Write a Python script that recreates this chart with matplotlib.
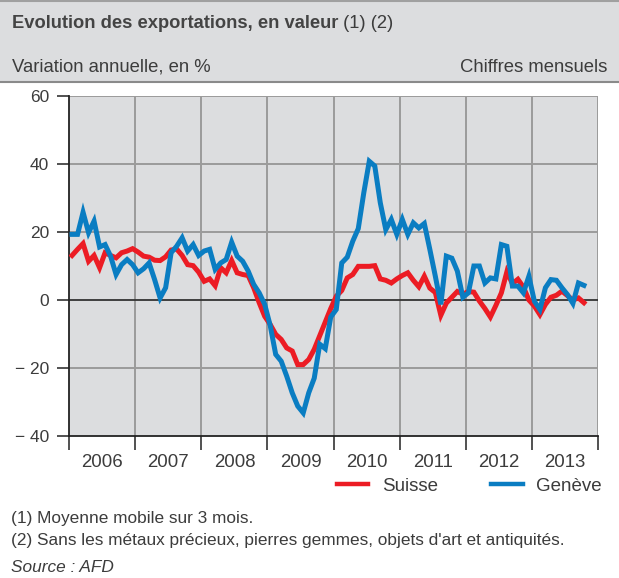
import matplotlib
matplotlib.use("Agg")
import matplotlib.pyplot as plt
from matplotlib.patches import Rectangle
from matplotlib.lines import Line2D
import numpy as np

plt.rcParams['font.family'] = ['Liberation Sans', 'DejaVu Sans']

# ---- data (monthly, Jan 2006 .. Oct 2013) ----
start_year = 2006
suisse = [13.1, 14.9, 16.6, 11.4, 13.1, 9.5, 13.9, 13.1, 12.4, 13.9, 14.4, 15.1,
          14.1, 12.9, 12.6, 11.7, 11.6, 12.7, 14.7, 15.0, 13.1, 10.4, 10.1, 8.2,
          5.5, 6.2, 4.2, 9.5, 8.0, 11.6, 8.0, 7.5, 7.2, 3.6, -0.8, -4.8,
          -7.2, -10.1, -11.6, -14.1, -15.0, -19.0, -19.0, -17.5, -14.5, -10.5, -6.5, -2.5,
          1.1, 2.8, 6.5, 7.5, 9.9, 9.9, 9.9, 10.1, 6.2, 5.8, 5.0, 6.2,
          7.2, 8.0, 5.8, 3.9, 7.0, 3.5, 2.2, -4.5, -0.9, 0.8, 2.5, 1.7,
          2.5, 2.3, -0.3, -2.5, -5.0, -1.6, 2.1, 8.3, 4.8, 6.1, 3.8, 0.0,
          -1.8, -4.3, -1.3, 0.8, 1.4, 2.6, 1.3, 0.0, 0.6, -0.8]
geneve = [19.3, 19.3, 25.8, 19.8, 23.2, 15.6, 16.3, 12.9, 7.5, 10.4, 11.9, 10.4,
          8.0, 9.2, 10.9, 6.0, 0.6, 3.6, 13.9, 15.8, 18.3, 14.4, 16.3, 13.1,
          14.4, 14.9, 9.0, 10.9, 11.9, 17.0, 12.9, 11.4, 8.5, 4.6, 2.1, -1.3,
          -7.5, -16.0, -18.0, -22.4, -27.3, -31.2, -33.2, -27.3, -23.0, -13.0, -14.3, -5.0,
          -2.8, 10.9, 12.6, 17.3, 21.0, 31.5, 40.8, 39.4, 28.6, 20.7, 23.7, 19.3,
          23.7, 19.3, 22.7, 21.2, 22.5, 14.9, 7.0, -1.3, 12.9, 12.3, 8.5, 0.8,
          2.1, 10.0, 10.0, 5.0, 6.5, 6.2, 16.3, 15.8, 4.1, 4.1, 2.1, 7.0,
          -0.4, -2.8, 3.6, 6.0, 5.8, 3.6, 1.6, -1.0, 5.0, 4.3]
years = [2006, 2007, 2008, 2009, 2010, 2011, 2012, 2013]
yticks = [-40, -20, 0, 20, 40, 60]
ytick_labels = ["\u2212 40", "\u2212 20", "0", "20", "40", "60"]
series_names = ["Suisse", "Genève"]

title_bold = "Evolution des exportations, en valeur"
title_rest = " (1) (2)"
subtitle_left = "Variation annuelle, en %"
subtitle_right = "Chiffres mensuels"
notes = ["(1) Moyenne mobile sur 3 mois.",
         "(2) Sans les métaux précieux, pierres gemmes, objets d'art et antiquités."]
source = "Source : AFD"

# ---- style ----
W, H = 619, 578
BG = "#dcdddf"
RED = "#ec1c24"
BLUE = "#0a7dc2"
TXT = "#3c3c3c"
GRID = "#9b9b9b"

fig = plt.figure(figsize=(W / 100, H / 100), dpi=100)
fig.patch.set_facecolor("white")

def fx(px):
    return px / W

def fy(py):
    return 1 - py / H

# header band
fig.patches.append(Rectangle((0, fy(82)), 1, fy(0) - fy(82), transform=fig.transFigure,
                             facecolor=BG, edgecolor="none", zorder=0))
fig.lines.append(Line2D([0, 1], [fy(1), fy(1)], transform=fig.transFigure, color="#a0a0a0", lw=1.5))
fig.lines.append(Line2D([0, 1], [fy(82), fy(82)], transform=fig.transFigure, color="#8a8a8a", lw=1.5))

t = fig.text(fx(12), fy(23), title_bold, fontsize=13.2, fontweight="bold", color="#444444",
             va="center", ha="left")
fig.canvas.draw()
bb = t.get_window_extent()
fig.text(bb.x1 / W, fy(23), title_rest, fontsize=13.2, color=TXT, va="center", ha="left")
fig.text(fx(12), fy(67), subtitle_left, fontsize=13.3, color=TXT, va="center", ha="left")
fig.text(fx(607), fy(67), subtitle_right, fontsize=13.3, color=TXT, va="center", ha="right")

# axes
x0, x1, ytop, ybot = 69.3, 597.7, 96, 436
ax = fig.add_axes([fx(x0), fy(ybot), fx(x1) - fx(x0), fy(ytop) - fy(ybot)])
ax.set_facecolor(BG)

n = len(suisse)
xs = start_year + (np.arange(n) + 0.5) / 12.0

for yr in years[1:] + [years[-1] + 1]:
    ax.axvline(yr, color=GRID, lw=1.4, zorder=1)
for yv in [-20, 20, 40, 60]:
    ax.axhline(yv, color=GRID, lw=1.4, zorder=1)
ax.axhline(0, color="#333333", lw=1.3, zorder=1)

ax.plot(xs, suisse, color=RED, lw=3.6, solid_joinstyle="miter", zorder=3, label=series_names[0])
ax.plot(xs, geneve, color=BLUE, lw=3.6, solid_joinstyle="miter", zorder=4, label=series_names[1])

ax.set_xlim(years[0], years[-1] + 1)
ax.set_ylim(-40, 60)

for s in ["top", "right"]:
    ax.spines[s].set_visible(False)
ax.spines["left"].set_color("#222222")
ax.spines["bottom"].set_color("#222222")
ax.spines["left"].set_linewidth(1.3)
ax.spines["bottom"].set_linewidth(1.3)

ax.set_yticks(yticks)
ax.set_yticklabels(ytick_labels, fontsize=12.5, color=TXT)
ax.tick_params(axis="y", direction="out", length=8.5, width=1.1, color="#222222", pad=6)

ax.set_xticks(years + [years[-1] + 1])
ax.set_xticklabels([])
ax.set_xticks([y + 0.5 for y in years], minor=True)
ax.set_xticklabels([str(y) for y in years], minor=True, fontsize=13.4, color=TXT)
ax.tick_params(axis="x", which="major", direction="out", length=10, width=1.1, color="#222222")
ax.tick_params(axis="x", which="minor", length=0, pad=13)

leg = ax.legend(loc="center left", bbox_to_anchor=(fx(336.7), fy(486)),
                bbox_transform=fig.transFigure, ncol=2, frameon=False,
                fontsize=13.5, handlelength=1.69, handletextpad=0.71, columnspacing=2.84,
                borderpad=0, borderaxespad=0)
for txt in leg.get_texts():
    txt.set_color(TXT)
for h in leg.legend_handles:
    h.set_linewidth(3.2)

fig.text(fx(11), fy(518), notes[0], fontsize=12.4, color=TXT, va="center", ha="left")
fig.text(fx(11), fy(541), notes[1], fontsize=12.4, color=TXT, va="center", ha="left")
fig.text(fx(11), fy(567), source, fontsize=12.4, color=TXT, va="center", ha="left", style="italic")

fig.savefig("out.png", dpi=100)
